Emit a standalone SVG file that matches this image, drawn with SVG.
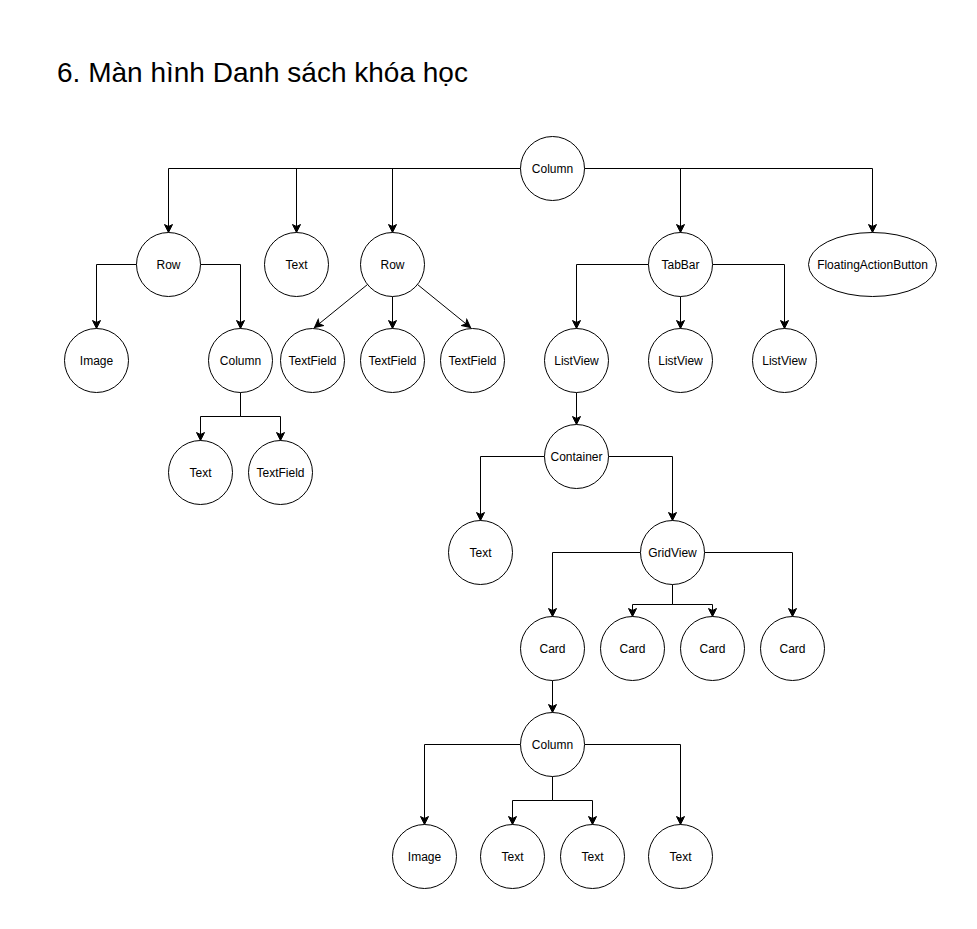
<svg xmlns="http://www.w3.org/2000/svg" width="977" height="929" viewBox="0 0 977 929">
<style>
.n{fill:#fff;stroke:#000;stroke-width:1}
.t{font-family:"Liberation Sans",Arial,sans-serif;font-size:12px;fill:#000;text-anchor:middle}
.e{fill:none;stroke:#000;stroke-width:1;marker-end:url(#a)}
.title{font-family:"Liberation Sans",Arial,sans-serif;font-size:28px;fill:#000}
</style>
<defs>
<marker id="a" viewBox="-9 -5 10 10" refX="0" refY="0" markerWidth="10" markerHeight="10" markerUnits="userSpaceOnUse" orient="auto">
<path d="M0,0 L-8,-4 L-6,0 L-8,4 Z" fill="#000" stroke="#000" stroke-width="1"/>
</marker>
</defs>
<rect width="977" height="929" fill="#fff"/>
<text class="title" x="57" y="82">6. Màn hình Danh sách khóa học</text>
<g transform="translate(0.5,0.5)">
<g id="connectors">
<path class="e" d="M520,168 H168 V232"/>
<path class="e" d="M520,168 H296 V232"/>
<path class="e" d="M520,168 H392 V232"/>
<path class="e" d="M584,168 H680 V232"/>
<path class="e" d="M584,168 H872 V232"/>
<path class="e" d="M136,264 H96 V328"/>
<path class="e" d="M200,264 H240 V328"/>
<path class="e" d="M240,392 V416 H200 V440"/>
<path class="e" d="M240,392 V416 H280 V440"/>
<path class="e" d="M367,284 L314,327"/>
<path class="e" d="M392,296 V328"/>
<path class="e" d="M417,284 L470,327"/>
<path class="e" d="M648,264 H576 V328"/>
<path class="e" d="M680,296 V328"/>
<path class="e" d="M712,264 H784 V328"/>
<path class="e" d="M576,392 V424"/>
<path class="e" d="M544,456 H480 V520"/>
<path class="e" d="M608,456 H672 V520"/>
<path class="e" d="M640,552 H552 V616"/>
<path class="e" d="M672,584 V604 H632 V616"/>
<path class="e" d="M672,584 V604 H712 V616"/>
<path class="e" d="M704,552 H792 V616"/>
<path class="e" d="M552,680 V712"/>
<path class="e" d="M520,744 H424 V824"/>
<path class="e" d="M552,776 V800 H512 V824"/>
<path class="e" d="M552,776 V800 H592 V824"/>
<path class="e" d="M584,744 H680 V824"/>
</g>
<g id="n-column-root"><circle class="n" cx="552" cy="168" r="32"/><text class="t" x="552" y="172">Column</text></g>
<g id="n-row1"><circle class="n" cx="168" cy="264" r="32"/><text class="t" x="168" y="268">Row</text></g>
<g id="n-text1"><circle class="n" cx="296" cy="264" r="32"/><text class="t" x="296" y="268">Text</text></g>
<g id="n-row2"><circle class="n" cx="392" cy="264" r="32"/><text class="t" x="392" y="268">Row</text></g>
<g id="n-tabbar"><circle class="n" cx="680" cy="264" r="32"/><text class="t" x="680" y="268">TabBar</text></g>
<g id="n-fab"><ellipse class="n" cx="872" cy="264" rx="64" ry="32"/><text class="t" x="872" y="268">FloatingActionButton</text></g>
<g id="n-image1"><circle class="n" cx="96" cy="360" r="32"/><text class="t" x="96" y="364">Image</text></g>
<g id="n-column2"><circle class="n" cx="240" cy="360" r="32"/><text class="t" x="240" y="364">Column</text></g>
<g id="n-tf1"><circle class="n" cx="312" cy="360" r="32"/><text class="t" x="312" y="364">TextField</text></g>
<g id="n-tf2"><circle class="n" cx="392" cy="360" r="32"/><text class="t" x="392" y="364">TextField</text></g>
<g id="n-tf3"><circle class="n" cx="472" cy="360" r="32"/><text class="t" x="472" y="364">TextField</text></g>
<g id="n-text2"><circle class="n" cx="200" cy="472" r="32"/><text class="t" x="200" y="476">Text</text></g>
<g id="n-tf4"><circle class="n" cx="280" cy="472" r="32"/><text class="t" x="280" y="476">TextField</text></g>
<g id="n-lv1"><circle class="n" cx="576" cy="360" r="32"/><text class="t" x="576" y="364">ListView</text></g>
<g id="n-lv2"><circle class="n" cx="680" cy="360" r="32"/><text class="t" x="680" y="364">ListView</text></g>
<g id="n-lv3"><circle class="n" cx="784" cy="360" r="32"/><text class="t" x="784" y="364">ListView</text></g>
<g id="n-container"><circle class="n" cx="576" cy="456" r="32"/><text class="t" x="576" y="460">Container</text></g>
<g id="n-text3"><circle class="n" cx="480" cy="552" r="32"/><text class="t" x="480" y="556">Text</text></g>
<g id="n-gridview"><circle class="n" cx="672" cy="552" r="32"/><text class="t" x="672" y="556">GridView</text></g>
<g id="n-card1"><circle class="n" cx="552" cy="648" r="32"/><text class="t" x="552" y="652">Card</text></g>
<g id="n-card2"><circle class="n" cx="632" cy="648" r="32"/><text class="t" x="632" y="652">Card</text></g>
<g id="n-card3"><circle class="n" cx="712" cy="648" r="32"/><text class="t" x="712" y="652">Card</text></g>
<g id="n-card4"><circle class="n" cx="792" cy="648" r="32"/><text class="t" x="792" y="652">Card</text></g>
<g id="n-column3"><circle class="n" cx="552" cy="744" r="32"/><text class="t" x="552" y="748">Column</text></g>
<g id="n-image2"><circle class="n" cx="424" cy="856" r="32"/><text class="t" x="424" y="860">Image</text></g>
<g id="n-text4"><circle class="n" cx="512" cy="856" r="32"/><text class="t" x="512" y="860">Text</text></g>
<g id="n-text5"><circle class="n" cx="592" cy="856" r="32"/><text class="t" x="592" y="860">Text</text></g>
<g id="n-text6"><circle class="n" cx="680" cy="856" r="32"/><text class="t" x="680" y="860">Text</text></g>
</g>
</svg>
